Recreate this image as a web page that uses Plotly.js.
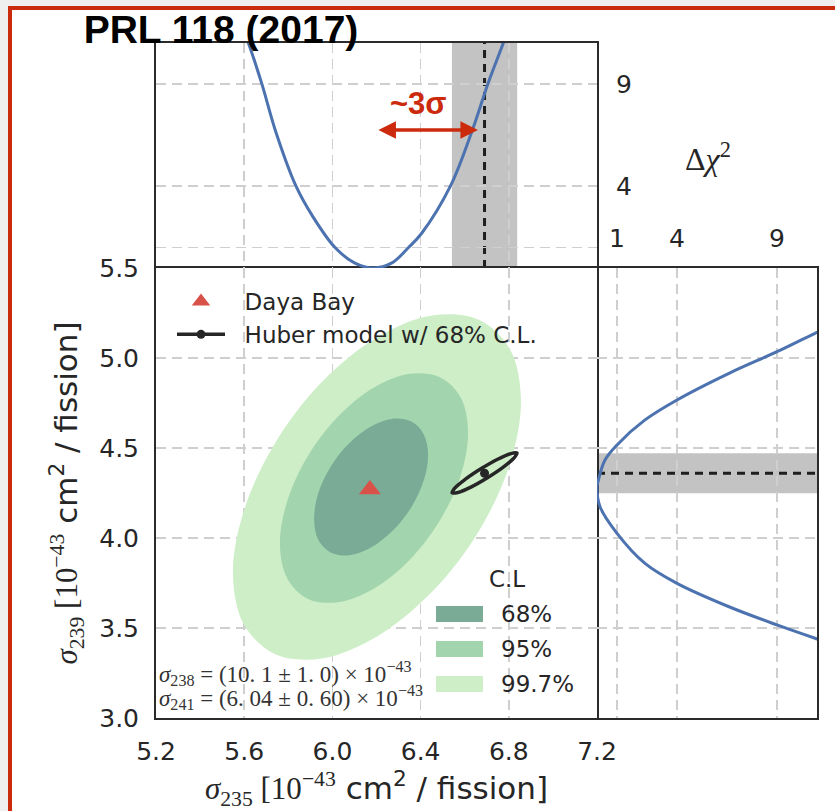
<!DOCTYPE html>
<html><head><meta charset="utf-8">
<script src="https://cdn.plot.ly/plotly-3.0.1.min.js"></script>
<style>html,body{margin:0;padding:0;background:#efefef;}#chart{width:835px;height:811px;}</style>
</head><body><div id="chart"></div>
<script>
// ---------------- data ----------------
const xTicks = [5.2, 5.6, 6.0, 6.4, 6.8, 7.2];
const xTickText = ['5.2', '5.6', '6.0', '6.4', '6.8', '7.2'];
const yTicks = [3.0, 3.5, 4.0, 4.5, 5.0, 5.5];
const yTickText = ['3.0', '3.5', '4.0', '4.5', '5.0', '5.5'];
const chiTicks = [1, 4, 9];
const chiTicksTopLabelled = [4, 9];
const chiTicksTopHidden = [1];
const chiTickText = ['1', '4', '9'];

const clLabels = ['68%', '95%', '99.7%'];
const clColors = ['#79ab97', '#a2d4ad', '#cdeec7'];

// Daya Bay best fit
const dayaX = [6.17];
const dayaY = [4.27];
// Huber model
const huberX = [6.69];
const huberY = [4.36];
const huberErrX = 0.148;
const huberErrY = 0.111;

// 99.7% contour
const c997X = [6.855, 6.805, 6.664, 6.452, 6.202, 5.952, 5.741, 5.599, 5.549, 5.599, 5.741, 5.952, 6.202, 6.452, 6.664, 6.805, 6.855];
const c997Y = [4.767, 5.048, 5.212, 5.236, 5.114, 4.866, 4.529, 4.154, 3.800, 3.519, 3.354, 3.331, 3.453, 3.701, 4.038, 4.412, 4.767];
// 95% contour
const c95X = [6.615, 6.583, 6.490, 6.352, 6.189, 6.025, 5.887, 5.795, 5.762, 5.795, 5.887, 6.025, 6.189, 6.352, 6.490, 6.583, 6.615];
const c95Y = [4.589, 4.778, 4.892, 4.912, 4.836, 4.674, 4.452, 4.204, 3.967, 3.777, 3.663, 3.643, 3.720, 3.881, 4.103, 4.352, 4.589];
// 68% contour
const c68X = [6.434, 6.414, 6.358, 6.274, 6.175, 6.076, 5.992, 5.936, 5.917, 5.936, 5.992, 6.076, 6.175, 6.274, 6.358, 6.414, 6.434];
const c68Y = [4.461, 4.577, 4.647, 4.663, 4.620, 4.526, 4.396, 4.248, 4.106, 3.990, 3.920, 3.904, 3.947, 4.041, 4.171, 4.319, 4.461];
// Huber 68% ellipse
const hubEllX = [6.837, 6.823, 6.775, 6.703, 6.628, 6.569, 6.543, 6.556, 6.605, 6.677, 6.752, 6.810, 6.837];
const hubEllY = [4.472, 4.444, 4.394, 4.335, 4.283, 4.253, 4.251, 4.278, 4.328, 4.387, 4.439, 4.469, 4.472];

// Delta chi2 profile vs sigma235 (top panel)
const prof235X = [5.590, 5.619, 5.680, 5.745, 5.835, 5.912, 6.012, 6.100, 6.185, 6.270, 6.345, 6.405, 6.535, 6.635, 6.705, 6.775, 6.800];
const prof235D = [11.8, 11.0, 9.0, 6.6, 4.0, 2.5, 1.0, 0.25, 0.0, 0.25, 1.0, 1.7, 4.0, 6.75, 9.0, 11.0, 11.8];
// Delta chi2 profile vs sigma239 (right panel)
const prof239D = [11.8, 10.9, 9.0, 6.6, 4.0, 2.4, 1.0, 0.4, 0.07, 0.0, 0.15, 1.0, 2.4, 4.0, 6.6, 9.0, 10.9, 11.8];
const prof239Y = [5.180, 5.137, 5.035, 4.915, 4.767, 4.656, 4.517, 4.433, 4.322, 4.280, 4.174, 4.026, 3.859, 3.748, 3.618, 3.517, 3.443, 3.410];

// ---------------- layout helpers ----------------
const W = 835, H = 811;
const px = v => v / W;
const py = v => 1 - v / H;
const RED = '#cb2a0c';
const INK = '#262626';
const SERIF = 'Liberation Serif';
const SANS = 'DejaVu Sans';
const GRID = '#cfcfcf';
const GRIDDASH = '10px,6px';

const traces = [
  {x: c997X, y: c997Y, type: 'scatter', mode: 'lines', fill: 'toself', fillcolor: clColors[2],
   line: {width: 0, shape: 'spline', smoothing: 1, color: clColors[2]}, showlegend: false, hoverinfo: 'skip', xaxis: 'x', yaxis: 'y'},
  {x: c95X, y: c95Y, type: 'scatter', mode: 'lines', fill: 'toself', fillcolor: clColors[1],
   line: {width: 0, shape: 'spline', smoothing: 1, color: clColors[1]}, showlegend: false, hoverinfo: 'skip', xaxis: 'x', yaxis: 'y'},
  {x: c68X, y: c68Y, type: 'scatter', mode: 'lines', fill: 'toself', fillcolor: clColors[0],
   line: {width: 0, shape: 'spline', smoothing: 1, color: clColors[0]}, showlegend: false, hoverinfo: 'skip', xaxis: 'x', yaxis: 'y'},
  {x: dayaX, y: dayaY, type: 'scatter', mode: 'markers', name: '\u00a0\u00a0Daya Bay', legendgroup: 'db',
   marker: {symbol: 'triangle-up', size: 19, color: '#d9524a'}, xaxis: 'x', yaxis: 'y'},
  {x: hubEllX, y: hubEllY, type: 'scatter', mode: 'lines', legendgroup: 'huber', showlegend: false,
   line: {color: INK, width: 3.5, shape: 'spline', smoothing: 1}, xaxis: 'x', yaxis: 'y'},
  {x: huberX, y: huberY, type: 'scatter', mode: 'lines+markers', legendgroup: 'huber',
   name: '\u00a0\u00a0Huber model w/ 68% C.L.',
   line: {color: INK, width: 3.5}, marker: {size: 9, color: INK}, xaxis: 'x', yaxis: 'y'},
  {x: prof235X, y: prof235D, type: 'scatter', mode: 'lines', showlegend: false,
   line: {color: '#4c72b0', width: 3, shape: 'spline', smoothing: 1}, xaxis: 'x2', yaxis: 'y2'},
  {x: prof239D, y: prof239Y, type: 'scatter', mode: 'lines', showlegend: false,
   line: {color: '#4c72b0', width: 3, shape: 'spline', smoothing: 1}, xaxis: 'x3', yaxis: 'y3'}
];

const axCommon = {
  showline: true, linecolor: '#2b2b2b', linewidth: 2, mirror: true, ticks: '',
  showgrid: true, gridcolor: GRID, gridwidth: 1.6, griddash: GRIDDASH, zeroline: false,
  tickfont: {family: SANS, size: 25, color: INK}, fixedrange: true
};

const xTitle = '<span style="font-family:Liberation Serif"><i>σ</i><sub>235</sub> [10<sup>−43</sup></span> cm<sup>2</sup> / fission]';
const yTitle = '<span style="font-family:Liberation Serif"><i>σ</i><sub>239</sub> [10<sup>−43</sup></span> cm<sup>2</sup> / fission]';

const shapes = [
  {type: 'rect', xref: 'paper', yref: 'paper', x0: px(10), x1: px(860), y0: py(840), y1: py(8),
   fillcolor: '#ffffff', line: {color: RED, width: 4}, layer: 'below'},
  {type: 'rect', xref: 'x2', yref: 'y2 domain', x0: huberX[0] - huberErrX, x1: huberX[0] + huberErrX, y0: 0, y1: 1,
   fillcolor: 'rgba(130,130,130,0.48)', line: {width: 0}, layer: 'below'},
  {type: 'line', xref: 'x2', yref: 'y2 domain', x0: huberX[0], x1: huberX[0], y0: 0, y1: 1,
   line: {color: '#1e1e1e', width: 3, dash: '8px,6px'}, layer: 'below'},
  {type: 'rect', xref: 'x3 domain', yref: 'y3', x0: 0, x1: 1, y0: huberY[0] - huberErrY, y1: huberY[0] + huberErrY,
   fillcolor: 'rgba(130,130,130,0.48)', line: {width: 0}, layer: 'below'},
  {type: 'line', xref: 'x3 domain', yref: 'y3', x0: 0, x1: 1, y0: huberY[0], y1: huberY[0],
   line: {color: '#1e1e1e', width: 3, dash: '8px,6px'}, layer: 'below'}
];
// C.L legend swatches
const swTop = [606, 641, 676];
clLabels.forEach((lab, i) => {
  shapes.push({type: 'rect', xref: 'paper', yref: 'paper', x0: px(436), x1: px(483), y0: py(swTop[i] + 16), y1: py(swTop[i]),
    fillcolor: clColors[i], line: {width: 0}, layer: 'above'});
});

const annotations = [
  {xref: 'paper', yref: 'paper', x: px(708), y: py(157), xanchor: 'center', yanchor: 'middle',
   text: 'Δ<i>χ</i><sup>2</sup>', showarrow: false, font: {family: SERIF, size: 32, color: INK}},
  {xref: 'paper', yref: 'paper', x: px(418), y: py(104), xanchor: 'center', yanchor: 'middle',
   text: '<b>~3σ</b>', showarrow: false, font: {family: 'Liberation Sans', size: 31, color: RED}},
  {xref: 'x2', yref: 'y2', x: 6.660, y: 6.75, ax: -101, ay: 0, text: '', showarrow: true,
   arrowside: 'end+start', arrowhead: 2, arrowsize: 1, arrowwidth: 3.5, arrowcolor: RED},
  {xref: 'paper', yref: 'paper', x: px(157), y: py(673), xanchor: 'left', yanchor: 'middle', showarrow: false,
   text: '<i>σ</i><sub>238</sub> = (10. 1 ± 1. 0) × 10<sup>−43</sup>', font: {family: SERIF, size: 23, color: '#333'}},
  {xref: 'paper', yref: 'paper', x: px(157), y: py(697), xanchor: 'left', yanchor: 'middle', showarrow: false,
   text: '<i>σ</i><sub>241</sub> = (6. 04 ± 0. 60) × 10<sup>−43</sup>', font: {family: SERIF, size: 23, color: '#333'}},
  {xref: 'paper', yref: 'paper', x: px(487), y: py(579), xanchor: 'left', yanchor: 'middle', showarrow: false,
   text: 'C.L', font: {family: SANS, size: 23, color: INK}}
];
clLabels.forEach((lab, i) => {
  annotations.push({xref: 'paper', yref: 'paper', x: px(499), y: py(swTop[i] + 8), xanchor: 'left', yanchor: 'middle',
    showarrow: false, text: lab, font: {family: SANS, size: 23, color: INK}});
});

const layout = {
  width: W, height: H, autosize: false,
  margin: {l: 0, r: 0, t: 0, b: 0, pad: 0},
  paper_bgcolor: '#efefef', plot_bgcolor: '#ffffff',
  font: {family: SANS, color: INK},
  title: {text: '<b>PRL 118 (2017)</b>', font: {family: 'Liberation Sans', size: 39, color: '#000'},
          x: px(221), xanchor: 'center', y: py(29), yanchor: 'middle', xref: 'paper', yref: 'paper'},
  showlegend: true,
  legend: {x: px(172), y: py(280), xanchor: 'left', yanchor: 'top', bgcolor: 'rgba(0,0,0,0)', borderwidth: 0,
           font: {family: SANS, size: 23, color: INK}, itemwidth: 48, tracegroupgap: 0, traceorder: 'grouped'},
  xaxis: Object.assign({}, axCommon, {domain: [px(156), px(597)], range: [5.2, 7.2], anchor: 'y',
          tickvals: xTicks, ticktext: xTickText, ticklabelstandoff: 10,
          title: {text: xTitle, font: {family: SANS, size: 31, color: INK}, standoff: 4}}),
  yaxis: Object.assign({}, axCommon, {domain: [py(718), py(268)], range: [3.0, 5.5], anchor: 'x',
          tickvals: yTicks, ticktext: yTickText, ticklabelstandoff: 10,
          title: {text: yTitle, font: {family: SANS, size: 31, color: INK}, standoff: 12}}),
  // top panel: its bottom edge is the main panel's top edge, so only the top line is drawn here
  xaxis2: Object.assign({}, axCommon, {domain: [px(156), px(597)], matches: 'x', anchor: 'y2', side: 'top', mirror: false,
          tickvals: xTicks, showticklabels: false}),
  yaxis2: Object.assign({}, axCommon, {domain: [py(268), py(43)], range: [0, 11], anchor: 'x2', side: 'right',
          tickvals: chiTicksTopLabelled, ticklabelstandoff: 12,
          minor: {tickvals: chiTicksTopHidden, showgrid: true, gridcolor: GRID, gridwidth: 1.6, griddash: GRIDDASH, ticks: ''}}),
  xaxis3: Object.assign({}, axCommon, {domain: [px(597), px(817)], range: [0, 11], anchor: 'y3', side: 'top',
          tickvals: chiTicks, ticktext: chiTickText, ticklabelstandoff: 9}),
  // right panel: its left edge is the main panel's right edge, so only the right line is drawn here
  yaxis3: Object.assign({}, axCommon, {domain: [py(718), py(268)], matches: 'y', anchor: 'x3', side: 'right', mirror: false,
          tickvals: yTicks, showticklabels: false}),
  shapes: shapes,
  annotations: annotations
};

Plotly.newPlot('chart', traces, layout, {displayModeBar: false, staticPlot: true});
</script></body></html>
